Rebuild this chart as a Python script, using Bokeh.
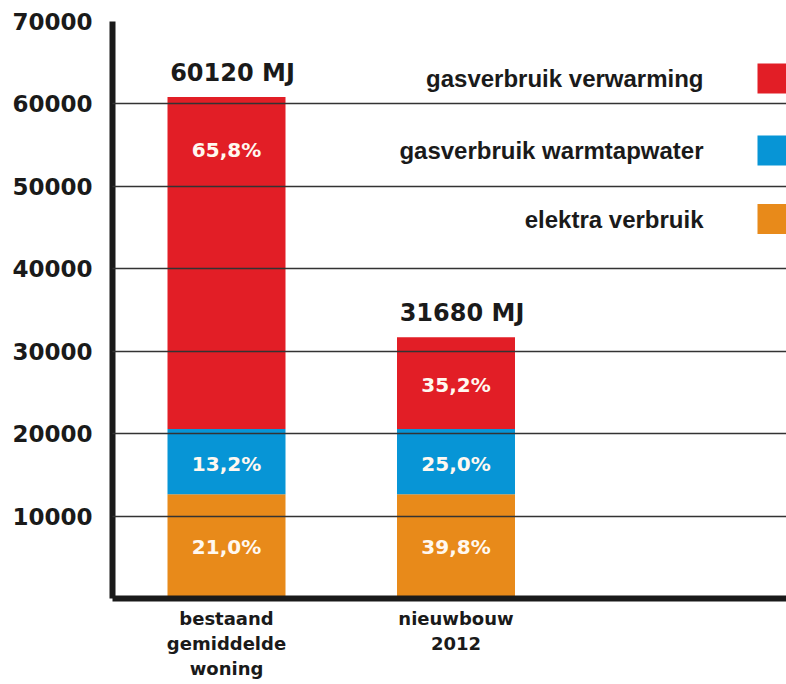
from bokeh.plotting import figure
from bokeh.models import Range1d, FixedTicker, ColumnDataSource
from bokeh.embed import file_html
from bokeh.resources import INLINE
from bokeh.core.properties import value

# ---------------- data ----------------
categories = ["bestaand\ngemiddelde\nwoning", "nieuwbouw\n2012"]
series = ["elektra verbruik", "gasverbruik warmtapwater", "gasverbruik verwarming"]
elektra = [12650, 12650]
warmtapwater = [7900, 7900]
verwarming = [40300, 11130]
pct_elektra = ["21,0%", "39,8%"]
pct_warmtapwater = ["13,2%", "25,0%"]
pct_verwarming = ["65,8%", "35,2%"]
totals = ["60120 MJ", "31680 MJ"]
legend_order = ["gasverbruik verwarming", "gasverbruik warmtapwater", "elektra verbruik"]
y_ticks = [10000, 20000, 30000, 40000, 50000, 60000, 70000]

# ---------------- style / layout ----------------
colors = {"elektra verbruik": "#E88A1A",
          "gasverbruik warmtapwater": "#0795D6",
          "gasverbruik verwarming": "#E21E26"}
W, H = 786, 684
B_LEFT, B_TOP, B_BOTTOM = 112, 21, 86
FRAME_H = H - B_TOP - B_BOTTOM
Y_MAX = 70000
PX_PER_UNIT = 229.5
X0 = 1 - 114 / PX_PER_UNIT
X1 = X0 + (W - B_LEFT) / PX_PER_UNIT
PAGE_FRAME_LEFT = B_LEFT
PAGE_FRAME_BOTTOM = B_TOP + FRAME_H


def px_x(page_x):
    return X0 + (page_x - PAGE_FRAME_LEFT) / PX_PER_UNIT


def px_y(page_y):
    return (PAGE_FRAME_BOTTOM - page_y) / FRAME_H * Y_MAX


xs = [i + 1 for i in range(len(categories))]

p = figure(width=W, height=H, output_backend="svg", toolbar_location=None,
           x_range=Range1d(X0, X1), y_range=Range1d(0, Y_MAX),
           min_border_left=B_LEFT, min_border_right=0,
           min_border_top=B_TOP, min_border_bottom=B_BOTTOM)
p.outline_line_color = None
p.background_fill_color = "white"

src = ColumnDataSource(dict(x=xs, **{
    "elektra verbruik": elektra,
    "gasverbruik warmtapwater": warmtapwater,
    "gasverbruik verwarming": verwarming}))
p.vbar_stack(series, x="x", width=118 / PX_PER_UNIT, source=src,
             color=[colors[s] for s in series], line_color=None)

# percentage labels
lab_x, lab_y, lab_t = [], [], []
for i, x in enumerate(xs):
    base = 0
    for vals, pcts in ((elektra, pct_elektra), (warmtapwater, pct_warmtapwater),
                       (verwarming, pct_verwarming)):
        top = base + vals[i]
        lab_x.append(x)
        lab_y.append(top - min(vals[i] / 2, 6150))
        lab_t.append(pcts[i])
        base = top
p.text(x=lab_x, y=lab_y, text=lab_t, text_color="#FFF8F0",
       text_font=value("DejaVu Sans"), text_font_style="bold",
       text_font_size="20px", text_align="center", text_baseline="middle",
       y_offset=2)

# totals above bars
tot_y = [elektra[i] + warmtapwater[i] + verwarming[i] for i in range(len(xs))]
p.text(x=xs, y=tot_y, text=totals, text_color="#1a1a1a",
       text_font=value("DejaVu Sans"), text_font_style="bold",
       text_font_size="24px", text_align="center", text_baseline="middle",
       x_offset=6, y_offset=-24)

# legend (text left, swatch right)
leg_centers = [78, 150, 218.5]
for name, cy in zip(legend_order, leg_centers):
    p.text(x=[px_x(703)], y=[px_y(cy)], text=[name], text_color="#1a1a1a",
           text_font=value("Liberation Sans"), text_font_style="bold",
           text_font_size="24px", text_align="right", text_baseline="middle")
    p.quad(left=[px_x(757)], right=[X1 + 0.1], top=[px_y(cy - 15)],
           bottom=[px_y(cy + 15)], color=colors[name], line_color=None)

# axes
p.yaxis.ticker = FixedTicker(ticks=y_ticks)
p.yaxis.axis_line_width = 6
p.yaxis.axis_line_color = "#1a1a1a"
p.yaxis.major_tick_line_color = None
p.yaxis.minor_tick_line_color = None
p.yaxis.major_tick_out = 0
p.yaxis.major_label_standoff = 20
p.yaxis.major_label_text_font = "DejaVu Sans"
p.yaxis.major_label_text_font_style = "bold"
p.yaxis.major_label_text_font_size = "23px"
p.yaxis.major_label_text_color = "#1a1a1a"

p.xaxis.ticker = FixedTicker(ticks=xs)
p.xaxis.major_label_overrides = {x: c for x, c in zip(xs, categories)}
p.xaxis.axis_line_width = 6
p.xaxis.axis_line_color = "#1a1a1a"
p.xaxis.major_tick_line_color = None
p.xaxis.minor_tick_line_color = None
p.xaxis.major_tick_out = 0
p.xaxis.major_label_standoff = 9
p.xaxis.major_label_text_font = "DejaVu Sans"
p.xaxis.major_label_text_font_style = "bold"
p.xaxis.major_label_text_font_size = "18px"
p.xaxis.major_label_text_color = "#1a1a1a"
p.xaxis.major_label_text_line_height = 1.2

p.xgrid.visible = False
p.ygrid.ticker = FixedTicker(ticks=y_ticks)
p.ygrid.grid_line_color = "#333333"
p.ygrid.grid_line_width = 1.5
p.ygrid.level = "overlay"

open("out.html", "w").write(file_html(p, INLINE))
